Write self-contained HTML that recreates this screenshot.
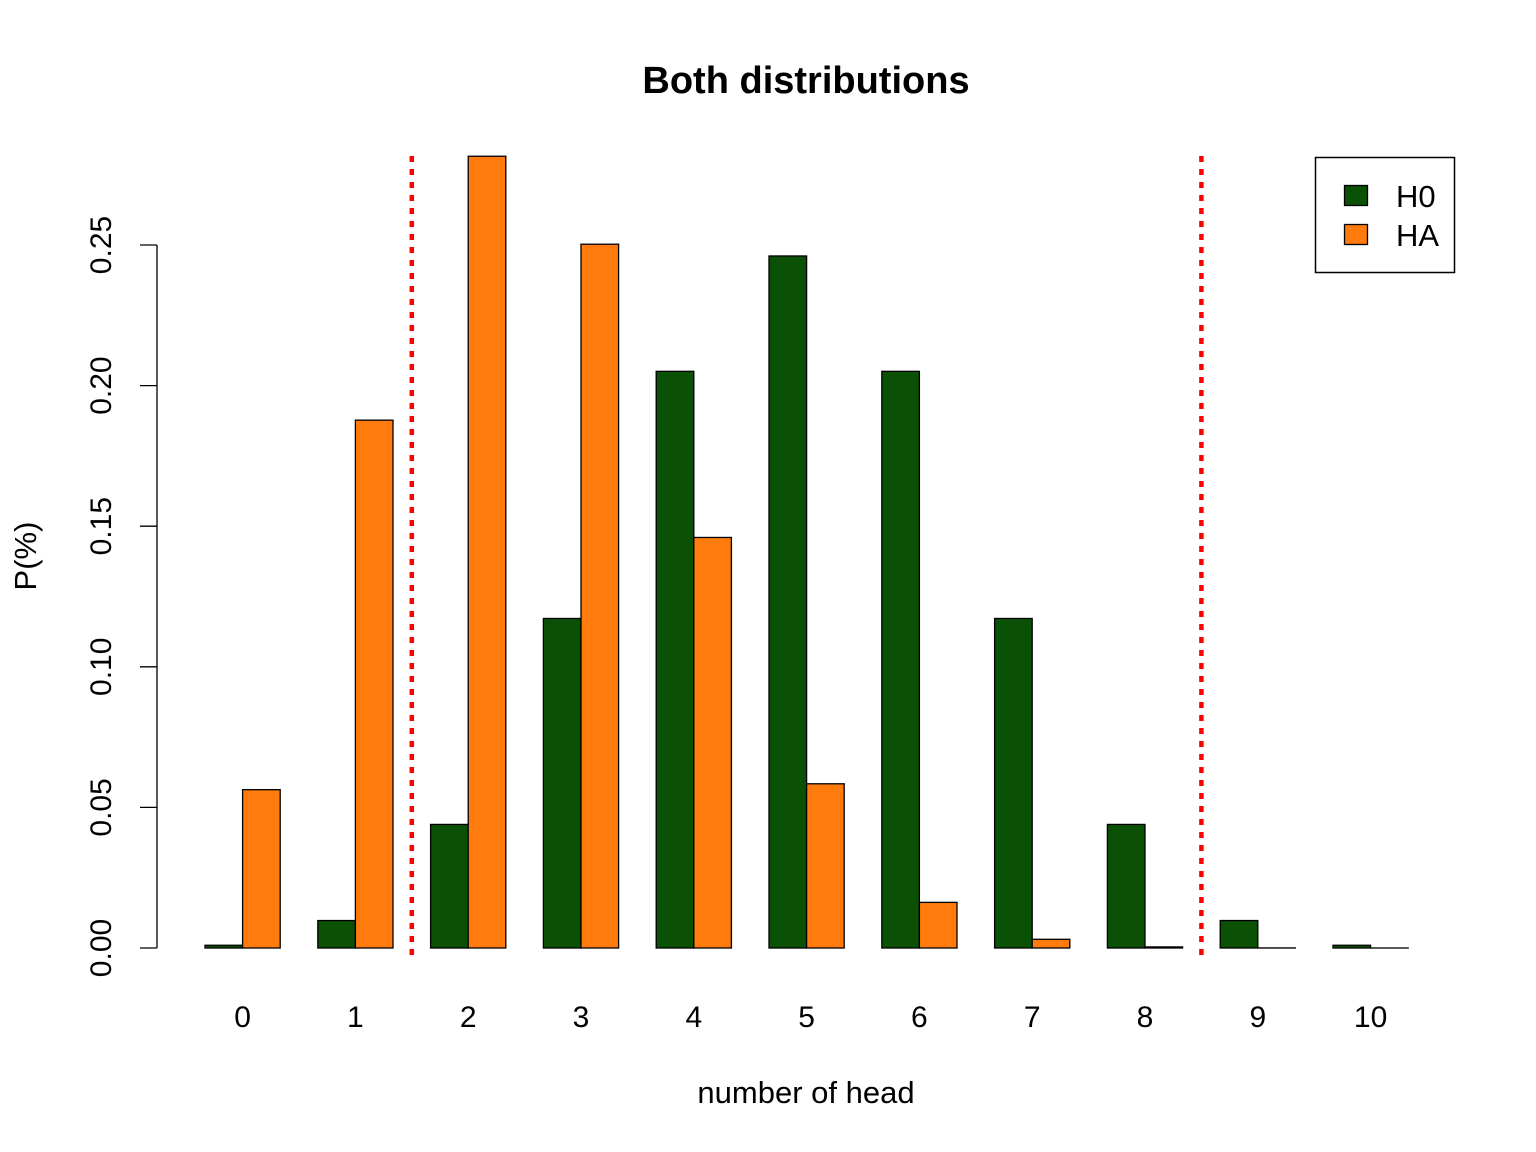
<!DOCTYPE html>
<html><head><meta charset="utf-8"><style>
html,body{margin:0;padding:0;background:#fff;}
svg{display:block;font-family:"Liberation Sans",Arial,sans-serif;}
</style></head><body>
<svg id="chart" width="1536" height="1152" viewBox="0 0 1536 1152">
<text x="806" y="93" text-anchor="middle" font-size="38" font-weight="bold">Both distributions</text>
<text x="806" y="1103" text-anchor="middle" font-size="31">number of head</text>
<text transform="translate(36,556) rotate(-90)" text-anchor="middle" font-size="31">P(%)</text>
<g id="plot"></g>
<g>
<rect x="1315.5" y="157.5" width="139" height="115" fill="#fff" stroke="#000" stroke-width="1.5"/>
<rect x="1344.5" y="185.5" width="23" height="20" fill="#0a5005" stroke="#000" stroke-width="1.3"/>
<rect x="1344.5" y="224.5" width="23" height="20" fill="#ff7b0e" stroke="#000" stroke-width="1.3"/>
<text x="1396" y="207" font-size="31">H0</text>
<text x="1396" y="246" font-size="31">HA</text>
</g>
</svg>
<script>
const categories = ["0","1","2","3","4","5","6","7","8","9","10"];
const h0Values = [0.000977,0.009766,0.043945,0.117188,0.205078,0.246094,0.205078,0.117188,0.043945,0.009766,0.000977];
const haValues = [0.056314,0.187712,0.281568,0.250282,0.145998,0.058399,0.016222,0.003090,0.000386,0.000029,0.000001];
const yTicks = [0,0.05,0.10,0.15,0.20,0.25];
const yTickLabels = ["0.00","0.05","0.10","0.15","0.20","0.25"];
const criticalBounds = [1.5, 8.5];

const NS = "http://www.w3.org/2000/svg";
const plot = document.getElementById('plot');
const unit = 37.6, x0 = 205;
const y = v => 948 - v * 2812;
const groupX = i => x0 + i * 3 * unit;
const boundX = b => x0 + (b + 0.5) * 3 * unit - 0.5 * unit;
function mk(tag, attrs){const e=document.createElementNS(NS,tag);for(const k in attrs)e.setAttribute(k,attrs[k]);plot.appendChild(e);return e;}

categories.forEach((c,i)=>{
  const gx = groupX(i);
  let r = mk('rect',{x:gx,y:y(h0Values[i]),width:unit,height:948-y(h0Values[i]),fill:'#0a5005',stroke:'#000','stroke-width':1.3});
  
  
  r = mk('rect',{x:gx+unit,y:y(haValues[i]),width:unit,height:948-y(haValues[i]),fill:'#ff7b0e',stroke:'#000','stroke-width':1.3});
  
  
  const t = mk('text',{x:gx+unit,y:1027,'text-anchor':'middle','font-size':30});
  t.textContent = c;
  
  
});

const ax = mk('line',{x1:157,x2:157,y1:y(yTicks[0]),y2:y(yTicks[yTicks.length-1]),stroke:'#000','stroke-width':1.3});


yTicks.forEach((v,i)=>{
  const l = mk('line',{x1:140,x2:157,y1:y(v),y2:y(v),stroke:'#000','stroke-width':1.3});
  
  
  const t = mk('text',{transform:`translate(111,${y(v)}) rotate(-90)`,'text-anchor':'middle','font-size':30});
  t.textContent = yTickLabels[i];
  
  
});

criticalBounds.forEach(b=>{
  const xx = boundX(b);
  const l = mk('line',{x1:xx,x2:xx,y1:156,y2:956,stroke:'#ff0000','stroke-width':4.5,'stroke-dasharray':'6 7'});
  
  
});
</script>
</body></html>
